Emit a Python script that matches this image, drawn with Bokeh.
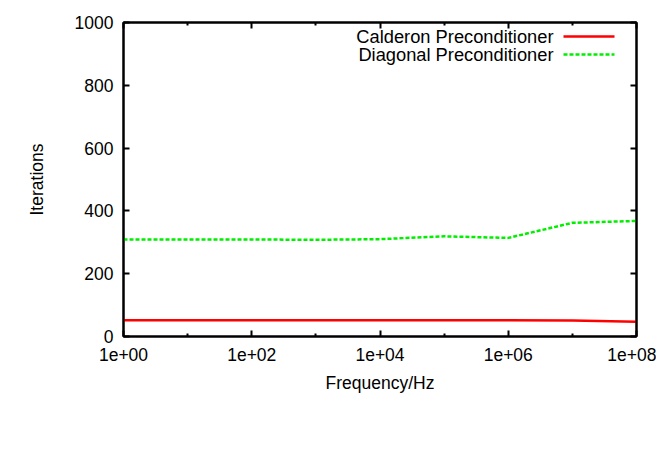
from bokeh.plotting import figure
from bokeh.models import (FixedTicker, LogAxis, LinearAxis, CustomJSTickFormatter,
                          Label, Arrow, Range1d)
from bokeh.embed import file_html
from bokeh.resources import INLINE

freq = [1e0, 1e1, 1e2, 1e3, 1e4, 1e5, 1e6, 1e7, 1e8]
calderon = [52, 52, 52, 52, 52, 52, 52, 51, 47]
diagonal = [309, 309, 309, 308, 310, 319, 314, 362, 368]
series_names = ["Calderon Preconditioner", "Diagonal Preconditioner"]
x_major = [1e0, 1e2, 1e4, 1e6, 1e8]
x_minor = [1e1, 1e3, 1e5, 1e7]
y_major = [0, 200, 400, 600, 800, 1000]

FONT = "Liberation Sans"
FS = "17.5px"
LFS = "18.3px"

p = figure(output_backend="svg", toolbar_location=None, x_axis_type="log",
           frame_width=513, frame_height=314,
           min_border_left=123, min_border_right=20, min_border_top=22, min_border_bottom=121,
           x_range=Range1d(1e0, 1e8), y_range=Range1d(0, 1000))
p.background_fill_color = "white"
p.border_fill_color = "white"
p.outline_line_color = "black"
p.outline_line_width = 2
p.xgrid.visible = False
p.ygrid.visible = False

p.line(freq, calderon, line_color="#ff0000", line_width=2.5)
p.line(freq, diagonal, line_color="#00ee00", line_width=2.5, line_dash="4 2")

fmt = CustomJSTickFormatter(code="""
const e = Math.round(Math.log10(tick));
return "1e+" + (e < 10 ? "0" : "") + e;
""")
blank = CustomJSTickFormatter(code="return ' ';")

def style(ax):
    ax.axis_line_color = "black"
    ax.axis_line_width = 2
    ax.major_tick_in = 6
    ax.major_tick_out = 0
    ax.minor_tick_in = 3
    ax.minor_tick_out = 0
    ax.major_tick_line_width = 2
    ax.minor_tick_line_width = 2
    ax.major_tick_line_color = "black"
    ax.minor_tick_line_color = "black"
    ax.major_label_text_font = FONT
    ax.major_label_text_font_size = FS
    ax.major_label_text_color = "black"
    ax.axis_label_text_font = FONT
    ax.axis_label_text_font_size = FS
    ax.axis_label_text_font_style = "normal"
    ax.axis_label_text_color = "black"

xa = p.xaxis[0]
xa.ticker = FixedTicker(ticks=x_major, minor_ticks=x_minor)
xa.formatter = fmt
style(xa)
xa.major_label_standoff = 11
xa.axis_label = "Frequency/Hz"
xa.axis_label_standoff = 9

ya = p.yaxis[0]
ya.ticker = FixedTicker(ticks=y_major, minor_ticks=[])
style(ya)
ya.major_label_standoff = 10
ya.axis_label = "Iterations"
ya.axis_label_standoff = 25

top = LogAxis(ticker=FixedTicker(ticks=x_major, minor_ticks=x_minor), formatter=blank)
style(top)
top.major_label_text_color = None
top.major_label_standoff = 0
top.major_label_text_font_size = "1px"
p.add_layout(top, "above")
right = LinearAxis(ticker=FixedTicker(ticks=y_major, minor_ticks=[]), formatter=blank)
style(right)
right.major_label_text_color = None
right.major_label_standoff = 0
right.major_label_text_font_size = "1px"
p.add_layout(right, "right")

# legend (text right-aligned, sample to the right); screen units relative to frame
colors = ["#ff0000", "#00ee00"]
dashes = ["solid", "4 2"]
for i, name in enumerate(series_names):
    ys = 300 - 18 * i
    p.add_layout(Label(x=430, y=ys, x_units="screen", y_units="screen", text=name,
                       text_align="right", text_baseline="middle",
                       text_font=FONT, text_font_size=LFS, text_color="black"))
    p.add_layout(Arrow(x_start=440, x_end=491, y_start=ys, y_end=ys,
                       start_units="screen", end_units="screen", end=None,
                       line_color=colors[i], line_width=2.5, line_dash=dashes[i]))

open("out.html", "w").write(file_html(p, INLINE))
